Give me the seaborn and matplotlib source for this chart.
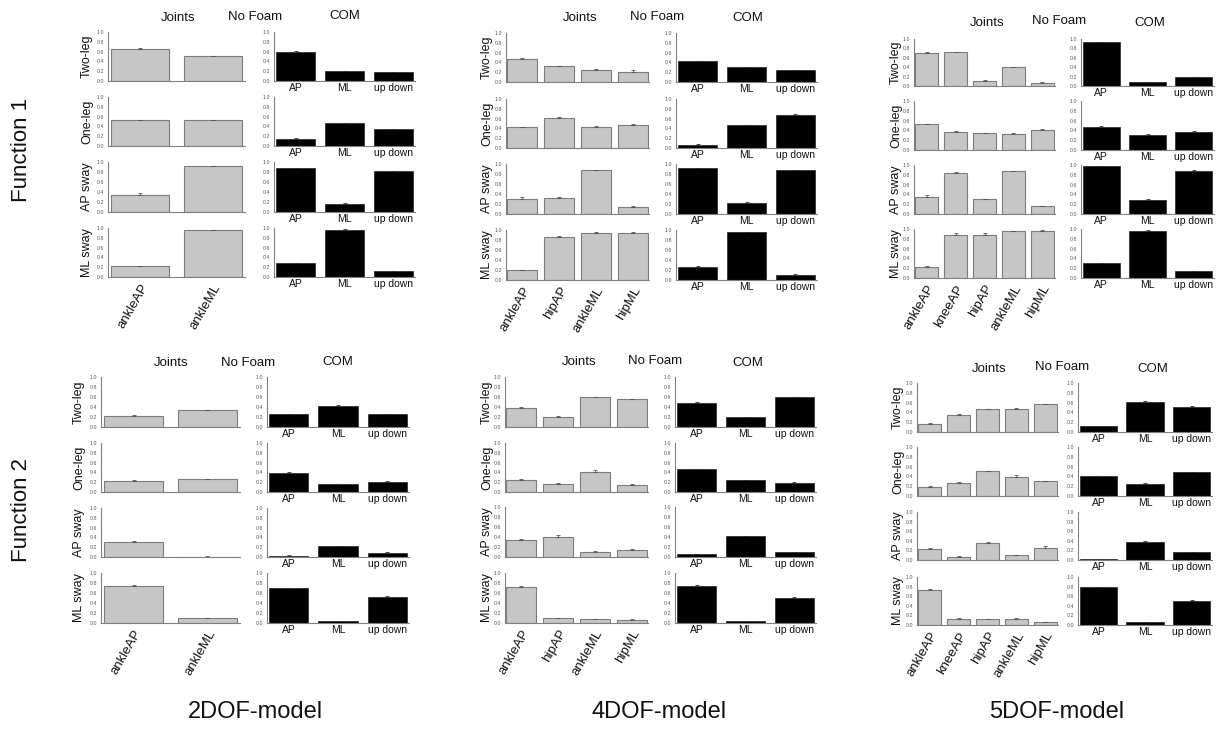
import numpy as np
import pandas as pd
import matplotlib
matplotlib.use("Agg")
import matplotlib.pyplot as plt
import seaborn as sns

# ---------------- data ----------------
ROWS = ["Two-leg", "One-leg", "AP sway", "ML sway"]
COM_CATS = ["AP", "ML", "up down"]
JOINTS_2DOF = ["ankleAP", "ankleML"]
JOINTS_4DOF = ["ankleAP", "hipAP", "ankleML", "hipML"]
JOINTS_5DOF = ["ankleAP", "kneeAP", "hipAP", "ankleML", "hipML"]
MODELS = ["2DOF-model", "4DOF-model", "5DOF-model"]
FUNCTIONS = ["Function 1", "Function 2"]

F1_2DOF_JOINTS = [[0.66, 0.51], [0.53, 0.53], [0.34, 0.91], [0.22, 0.96]]
F1_2DOF_COM = [[0.60, 0.20, 0.18], [0.14, 0.46, 0.34], [0.87, 0.16, 0.81], [0.28, 0.96, 0.12]]
F1_4DOF_JOINTS = [[0.47, 0.33, 0.245, 0.21], [0.43, 0.61, 0.43, 0.47],
                  [0.30, 0.33, 0.88, 0.15], [0.20, 0.87, 0.95, 0.94]]
F1_4DOF_COM = [[0.42, 0.30, 0.245], [0.07, 0.46, 0.68], [0.92, 0.22, 0.88], [0.27, 0.96, 0.11]]
F1_5DOF_JOINTS = [[0.70, 0.72, 0.11, 0.40, 0.07], [0.53, 0.37, 0.34, 0.33, 0.40],
                  [0.35, 0.84, 0.30, 0.88, 0.155], [0.23, 0.87, 0.88, 0.95, 0.95]]
F1_5DOF_COM = [[0.93, 0.076, 0.19], [0.47, 0.31, 0.37], [0.97, 0.29, 0.88], [0.30, 0.96, 0.14]]

F2_2DOF_JOINTS = [[0.23, 0.34], [0.23, 0.26], [0.31, 0.01], [0.74, 0.10]]
F2_2DOF_COM = [[0.26, 0.43, 0.26], [0.39, 0.16, 0.21], [0.03, 0.22, 0.09], [0.70, 0.035, 0.53]]
F2_4DOF_JOINTS = [[0.39, 0.20, 0.59, 0.55], [0.25, 0.16, 0.41, 0.15],
                  [0.34, 0.40, 0.11, 0.15], [0.73, 0.10, 0.075, 0.065]]
F2_4DOF_COM = [[0.49, 0.20, 0.59], [0.46, 0.245, 0.19], [0.06, 0.42, 0.10], [0.74, 0.035, 0.51]]
F2_5DOF_JOINTS = [[0.17, 0.345, 0.46, 0.475, 0.57], [0.185, 0.27, 0.51, 0.39, 0.30],
                  [0.22, 0.07, 0.36, 0.10, 0.26], [0.72, 0.13, 0.12, 0.13, 0.055]]
F2_5DOF_COM = [[0.12, 0.61, 0.52], [0.40, 0.25, 0.49], [0.015, 0.38, 0.16], [0.79, 0.055, 0.51]]

# small standard errors (upper whiskers)
F1_2DOF_JERR = [[0.01, 0.005], [0.005, 0.005], [0.04, 0.005], [0.01, 0.005]]
F1_4DOF_JERR = [[0.02, 0.005, 0.015, 0.04], [0.005, 0.02, 0.02, 0.02],
                [0.05, 0.02, 0.005, 0.02], [0.01, 0.02, 0.005, 0.03]]
F1_5DOF_JERR = [[0.03, 0.01, 0.01, 0.01, 0.01], [0.01, 0.01, 0.01, 0.02, 0.02],
                [0.04, 0.02, 0.01, 0.005, 0.01], [0.01, 0.05, 0.03, 0.005, 0.02]]
F2_2DOF_JERR = [[0.02, 0.005], [0.01, 0.005], [0.02, 0.01], [0.03, 0.005]]
F2_4DOF_JERR = [[0.01, 0.02, 0.01, 0.01], [0.01, 0.02, 0.03, 0.01],
                [0.03, 0.04, 0.02, 0.01], [0.01, 0.01, 0.01, 0.01]]
F2_5DOF_JERR = [[0.02, 0.02, 0.01, 0.01, 0.01], [0.02, 0.01, 0.01, 0.03, 0.01],
                [0.02, 0.02, 0.01, 0.01, 0.03], [0.03, 0.02, 0.01, 0.02, 0.01]]
F1_2DOF_CERR = [[0.01, 0.01, 0.01], [0.02, 0.01, 0.01], [0.01, 0.01, 0.01], [0.01, 0.01, 0.01]]
F1_4DOF_CERR = [[0.01, 0.01, 0.01], [0.01, 0.01, 0.01], [0.01, 0.03, 0.01], [0.01, 0.01, 0.01]]
F1_5DOF_CERR = [[0.01, 0.01, 0.01], [0.01, 0.01, 0.01], [0.01, 0.02, 0.01], [0.01, 0.01, 0.01]]
F2_2DOF_CERR = [[0.01, 0.02, 0.01], [0.01, 0.01, 0.01], [0.01, 0.01, 0.01], [0.01, 0.01, 0.01]]
F2_4DOF_CERR = [[0.01, 0.01, 0.01], [0.01, 0.01, 0.01], [0.01, 0.01, 0.01], [0.02, 0.01, 0.01]]
F2_5DOF_CERR = [[0.01, 0.03, 0.01], [0.01, 0.01, 0.01], [0.01, 0.01, 0.01], [0.01, 0.01, 0.02]]

# ---------------- style ----------------
sns.set_style("white")
plt.rcParams["font.family"] = ["Liberation Sans", "DejaVu Sans"]

W, H = 1217, 729
fig = plt.figure(figsize=(W / 100, H / 100), dpi=100)

GRAY_FILL = "#c6c6c6"
GRAY_EDGE = "#7d7d7d"
SPINE = "#808080"


def fx(x):
    return x / W


def fy(y):
    return 1 - y / H


def add_ax(x0, x1, y0, y1):
    return fig.add_axes([fx(x0), fy(y1), (x1 - x0) / W, (y1 - y0) / H])


def style_ax(ax, n):
    ax.set_ylim(0, 1.0)
    ax.set_xlim(-0.44, n - 0.56)
    for s in ["top", "right"]:
        ax.spines[s].set_visible(False)
    for s in ["left", "bottom"]:
        ax.spines[s].set_color(SPINE)
        ax.spines[s].set_linewidth(0.8)
    ax.set_yticks([0.0, 0.2, 0.4, 0.6, 0.8, 1.0])
    ax.set_yticklabels(["0.0", "0.2", "0.4", "0.6", "0.8", "1.0"])
    ax.tick_params(axis="y", direction="out", length=1.5, width=0.5, colors="#777777",
                   labelsize=3.8, pad=1, labelcolor="#555555")
    ax.set_xlabel("")
    ax.set_ylabel("")


BLOCKS = [
    dict(f=0, m=0, cats=JOINTS_2DOF, j=F1_2DOF_JOINTS, je=F1_2DOF_JERR, c=F1_2DOF_COM, ce=F1_2DOF_CERR,
         jx=(108, 245), cx=(274, 415), rows=[(32, 81), (97, 146), (162, 212), (228, 277)],
         lab=87, titles=[(178, 18), (255, 17), (345, 16)]),
    dict(f=0, m=1, cats=JOINTS_4DOF, j=F1_4DOF_JOINTS, je=F1_4DOF_JERR, c=F1_4DOF_COM, ce=F1_4DOF_CERR,
         jx=(506, 649), cx=(676, 817), rows=[(33, 82), (99, 148), (164, 214), (230, 280)],
         lab=487, titles=[(580, 18), (657, 17), (748, 18)]),
    dict(f=0, m=2, cats=JOINTS_5DOF, j=F1_5DOF_JOINTS, je=F1_5DOF_JERR, c=F1_5DOF_COM, ce=F1_5DOF_CERR,
         jx=(914, 1055), cx=(1081, 1214), rows=[(39, 86), (101, 150), (165, 214), (229, 278)],
         lab=896, titles=[(987, 23), (1059, 21), (1150, 23)]),
    dict(f=1, m=0, cats=JOINTS_2DOF, j=F2_2DOF_JOINTS, je=F2_2DOF_JERR, c=F2_2DOF_COM, ce=F2_2DOF_CERR,
         jx=(101, 240), cx=(267, 409), rows=[(377, 427), (443, 492), (508, 557), (573, 623)],
         lab=79, titles=[(171, 363), (248, 363), (338, 362)]),
    dict(f=1, m=1, cats=JOINTS_4DOF, j=F2_4DOF_JOINTS, je=F2_4DOF_JERR, c=F2_4DOF_COM, ce=F2_4DOF_CERR,
         jx=(505, 648), cx=(675, 816), rows=[(377, 427), (443, 492), (507, 557), (573, 623)],
         lab=487, titles=[(579, 362), (655, 361), (748, 363)]),
    dict(f=1, m=2, cats=JOINTS_5DOF, j=F2_5DOF_JOINTS, je=F2_5DOF_JERR, c=F2_5DOF_COM, ce=F2_5DOF_CERR,
         jx=(917, 1058), cx=(1078, 1212), rows=[(383, 432), (447, 496), (512, 560), (577, 625)],
         lab=898, titles=[(989, 369), (1062, 367), (1153, 369)]),
]

for b in BLOCKS:
    cats = b["cats"]
    n = len(cats)
    for r, (y0, y1) in enumerate(b["rows"]):
        # joints panel
        ax = add_ax(b["jx"][0], b["jx"][1], y0, y1)
        df = pd.DataFrame({"joint": cats, "value": b["j"][r]})
        sns.barplot(data=df, x="joint", y="value", ax=ax, color=GRAY_FILL, saturation=1,
                    edgecolor=GRAY_EDGE, linewidth=0.8, width=0.8, errorbar=None)
        ax.errorbar(np.arange(n), b["j"][r], yerr=[np.zeros(n), b["je"][r]], fmt="none",
                    ecolor="#555555", elinewidth=0.6, capsize=1.2, capthick=0.6)
        style_ax(ax, n)
        ax.set_xticks(np.arange(n))
        if r == 3:
            ax.set_xticklabels(cats, rotation=60, ha="right", rotation_mode="anchor",
                               fontsize=9.5, color="#111111")
        else:
            ax.set_xticklabels([])
        ax.tick_params(axis="x", direction="out", length=1.5, width=0.5, colors="#777777",
                       labelcolor="#111111", pad=2)
        # row label
        fig.text(fx(b["lab"]), fy((y0 + y1) / 2), ROWS[r], rotation=90, ha="center",
                 va="center", fontsize=9, color="#111111")

        # COM panel
        ax2 = add_ax(b["cx"][0], b["cx"][1], y0, y1)
        dfc = pd.DataFrame({"dir": COM_CATS, "value": b["c"][r]})
        sns.barplot(data=dfc, x="dir", y="value", ax=ax2, color="black", saturation=1,
                    edgecolor="#222222", linewidth=0.5, width=0.8, errorbar=None)
        ax2.errorbar(np.arange(3), b["c"][r], yerr=[np.zeros(3), b["ce"][r]], fmt="none",
                     ecolor="#333333", elinewidth=0.6, capsize=1.2, capthick=0.6)
        style_ax(ax2, 3)
        ax2.set_xticks(np.arange(3))
        ax2.set_xticklabels(COM_CATS, fontsize=7.5, color="#111111")
        ax2.tick_params(axis="x", length=0, pad=1.5)

    # block titles
    for (tx, ty), t in zip(b["titles"], ["Joints", "No Foam", "COM"]):
        fig.text(fx(tx), fy(ty), t, ha="center", va="center", fontsize=9.5, color="#111111")

# function labels and model labels
for t, y in zip(FUNCTIONS, [150, 510]):
    fig.text(fx(22), fy(y), t, rotation=90, ha="center", va="center", fontsize=16, color="#111111")
for t, x in zip(MODELS, [255, 659, 1057]):
    fig.text(fx(x), fy(712), t, ha="center", va="center", fontsize=17, color="#111111")

fig.savefig("out.png", dpi=100, facecolor="white")
